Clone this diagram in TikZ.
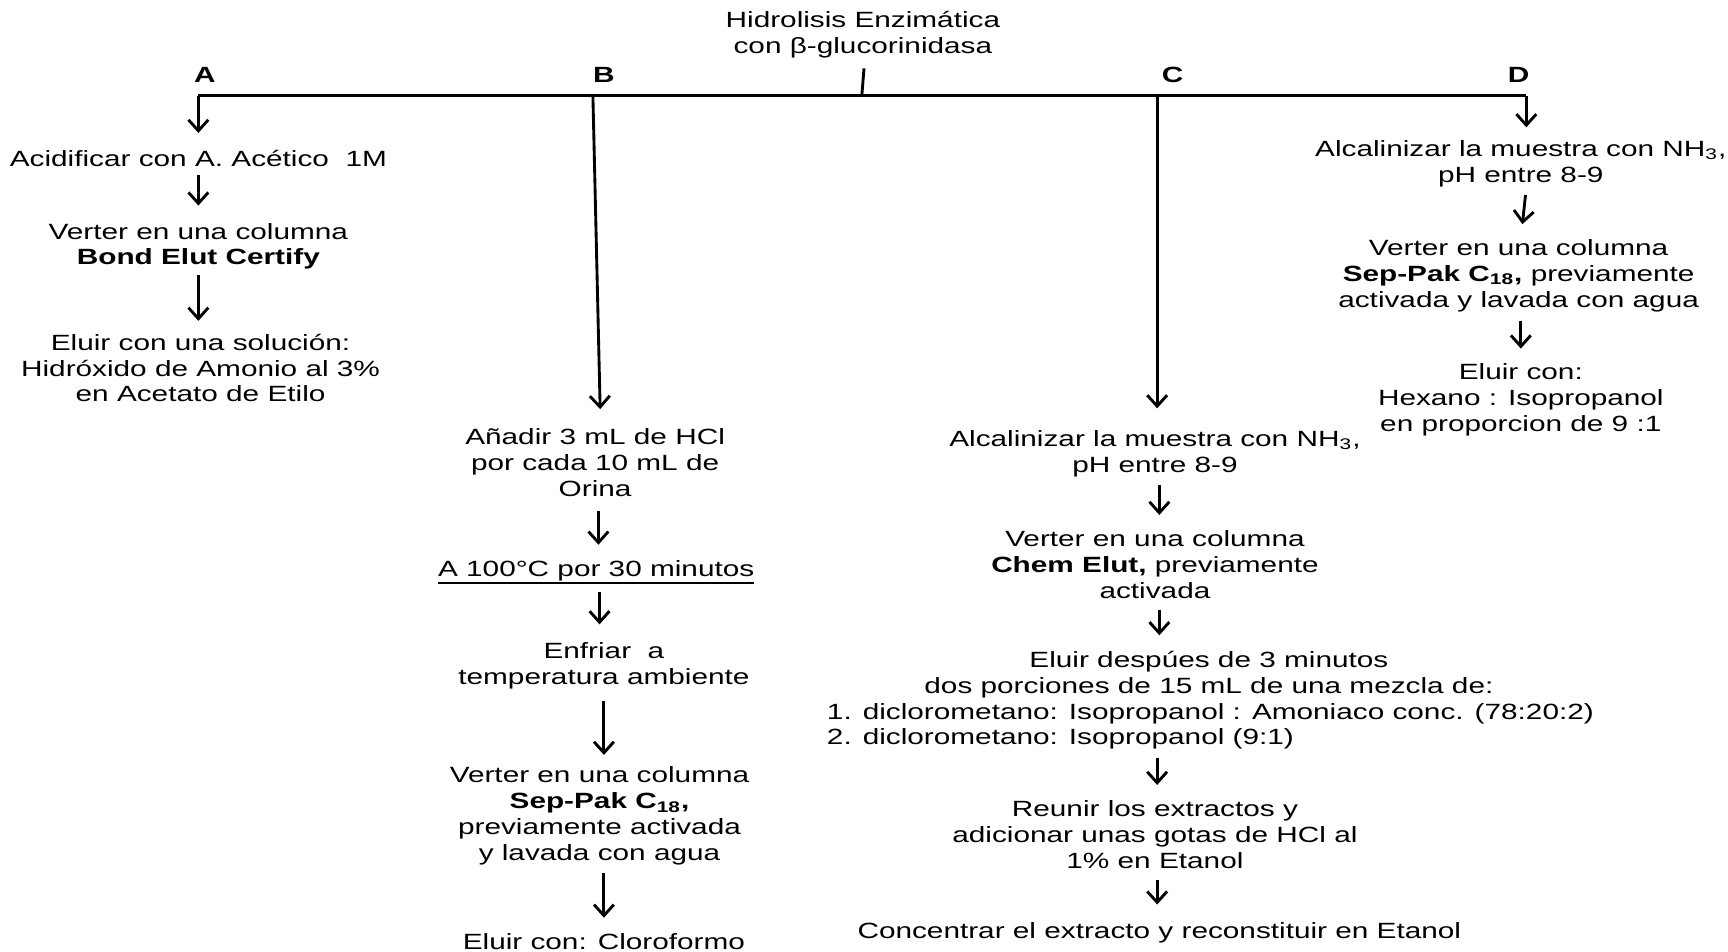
\documentclass[tikz,border=0pt]{standalone}
\usepackage{fontspec}
\setmainfont{Liberation Sans}[FakeStretch=1.35]
\newcommand{\thickul}[1]{\leavevmode\vtop{\hbox{#1}\kern0.6pt\hrule height 0.9pt}}
\usetikzlibrary{arrows.meta}
\begin{document}
\begin{tikzpicture}[x=0.5pt,y=-0.5pt,
  txt/.style={align=center, inner sep=0pt, font=\fontsize{10pt}{11.75pt}\selectfont},
  txtl/.style={align=left, inner sep=0pt, font=\fontsize{10pt}{11.75pt}\selectfont},
  lab/.style={inner sep=0pt, font=\fontsize{10pt}{12pt}\selectfont\bfseries},
  ln/.style={line width=1.3pt},
  arr/.style={line width=1.3pt, -{Straight Barb[length=5pt,width=9pt,line width=1.3pt]}}]
\useasboundingbox (0,0) rectangle (1568,863);

% title and main bar
\node[txt] (t) at (783,31.5) {Hidrolisis Enzimática\\con β-glucorinidasa};
\coordinate (tt) at (784,62);
\coordinate (jt) at (782,87);
\coordinate (jA) at (180,87);
\coordinate (jB) at (538,87);
\coordinate (jC) at (1050,87);
\coordinate (jD) at (1385,87);
\draw[ln] (tt) -- (jt);
\draw[ln] (jA) -- (jD);

\node[lab] (lA) at (186,68) {A};
\node[lab] (lB) at (548,68) {B};
\node[lab] (lC) at (1064,68) {C};
\node[lab] (lD) at (1378,68) {D};

% column A
\node[txt] (a1) at (180,144) {Acidificar con A. Acético\ \ 1M};
\node[txt] (a2) at (180,223.5) {Verter en una columna\\\textbf{Bond Elut Certify}};
\node[txt] (a3) at (182,334) {Eluir con una solución:\\Hidróxido de Amonio al 3\%\\en Acetato de Etilo};
\draw[arr, shorten >=7.75pt] (jA) -- (jA |- a1.north);
\draw[arr, shorten <=3.5pt, shorten >=7.75pt] (a1.south) -- (a1.south |- a2.north);
\draw[arr, shorten <=2.5pt, shorten >=5.75pt] (a2.south) -- (a2.south |- a3.north);

% column B
\node[txt] (b1) at (540,420) {Añadir 3 mL de HCl\\por cada 10 mL de\\Orina};
\node[txt] (b2) at (541,519) {\thickul{A 100°C por 30 minutos}};
\node[txt] (b3) at (548,604.5) {Enfriar\ \ a\\temperatura ambiente};
\node[txt] (b4) at (544,740.5) {Verter en una columna\\\textbf{Sep-Pak C\textsubscript{18},}\\previamente activada\\y lavada con agua};
\node[txt] (b5) at (548,854) {Eluir con: Cloroformo};
\draw[arr, shorten >=8.75pt] (jB) -- ([xshift=2.5pt]b1.north);
\draw[arr, shorten <=6pt, shorten >=6.75pt] ([xshift=1.5pt]b1.south) -- ([xshift=1.5pt]b1.south |- b2.north);
\draw[arr, shorten <=3.5pt, shorten >=8.25pt] ([xshift=1.5pt]b2.south) -- ([xshift=1.5pt]b2.south |- b3.north);
\draw[arr, shorten <=5pt, shorten >=5.25pt] (b3.south) -- (b3.south |- b4.north);
\draw[arr, shorten <=3.5pt, shorten >=6.75pt] ([xshift=2pt]b4.south) -- ([xshift=2pt]b4.south |- b5.north);

% column C
\node[txt] (c1) at (1048,411.5) {Alcalinizar la muestra con NH\textsubscript{3},\\pH entre 8-9};
\node[txt] (c2) at (1048,512) {Verter en una columna\\\textbf{Chem Elut,} previamente\\activada};
\node[txt] (c3) at (1097,612.5) {Eluir despúes de 3 minutos\\dos porciones de 15 mL de una mezcla de:};
\node[txtl, anchor=west] (c3b) at (750,659) {1. diclorometano: Isopropanol : Amoniaco conc. (78:20:2)\\2. diclorometano: Isopropanol (9:1)};
\node[txt] (c4) at (1048,757) {Reunir los extractos y\\adicionar unas gotas de HCl al\\1\% en Etanol};
\node[txt] (c5) at (1052,846) {Concentrar el extracto y reconstituir en Etanol};
\draw[arr, shorten >=9.75pt] (jC) -- (jC |- c1.north);
\draw[arr, shorten <=3.5pt, shorten >=6.75pt] ([xshift=2pt]c1.south) -- ([xshift=2pt]c1.south |- c2.north);
\draw[arr, shorten <=5pt, shorten >=7.25pt] ([xshift=2pt]c2.south) -- ([xshift=2pt]c2.south |- c3.north);
\draw[arr, shorten <=3.5pt, shorten >=6.75pt] ([xshift=1pt]c4.north |- c3b.south) -- ([xshift=1pt]c4.north);
\draw[arr, shorten <=5pt, shorten >=7.75pt] ([xshift=1pt]c4.south) -- ([xshift=1pt]c4.south |- c5.north);

% column D
\node[txt] (d1) at (1380,148.5) {Alcalinizar la muestra con NH\textsubscript{3},\\pH entre 8-9};
\node[txt] (d2) at (1378,250) {Verter en una columna\\\textbf{Sep-Pak C\textsubscript{18},} previamente\\activada y lavada con agua};
\node[txt] (d3) at (1380,363) {Eluir con:\\Hexano : Isopropanol\\en proporcion de 9 :1};
\draw[arr, shorten >=5.75pt] (jD) -- (jD |- d1.north);
\draw[arr, shorten <=3.5pt, shorten >=6.75pt] ([xshift=2.5pt]d1.south) -- ([xshift=0pt]d1.south |- d2.north);
\draw[arr, shorten <=4pt, shorten >=6.75pt] ([xshift=1pt]d2.south) -- ([xshift=1pt]d2.south |- d3.north);
\end{tikzpicture}
\end{document}
